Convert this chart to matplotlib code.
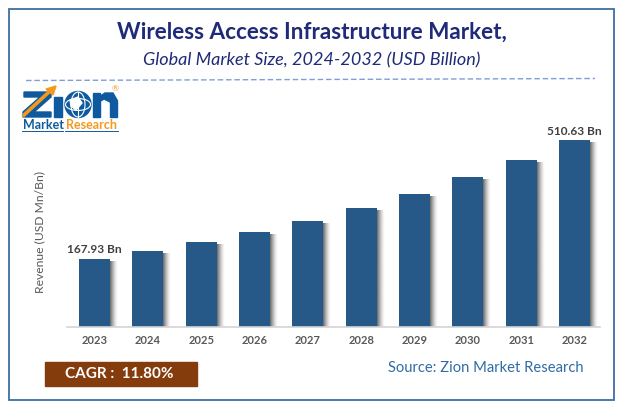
#!/usr/bin/env python3
"""Wireless access infrastructure market bar chart with Zion style frame and logo."""
import numpy as np
import matplotlib
matplotlib.use("Agg")
import matplotlib.pyplot as plt
from matplotlib.patches import Rectangle, Circle, Polygon, Ellipse

W, H = 622, 408

years = ["2023", "2024", "2025", "2026", "2027", "2028", "2029", "2030", "2031", "2032"]
values = [167.93, 191, 217, 246, 277, 315, 355, 404, 453, 510.63]
first_label = "167.93 Bn"
last_label = "510.63 Bn"

BLUE = "#265987"
NAVY = "#1f2a78"
GREY = "#595959"
LOGO_BLUE = "#0f5a9e"
LOGO_ORANGE = "#f39a1e"

plt.rcParams["font.family"] = ["Lato", "DejaVu Sans"]

fig = plt.figure(figsize=(W / 100, H / 100), dpi=100, facecolor="white")

# full-figure overlay in pixel coords for frame, titles, logo
bg = fig.add_axes([0, 0, 1, 1])
bg.set_xlim(0, W); bg.set_ylim(H, 0); bg.axis("off")
bg.add_patch(Rectangle((8.5, 8.5), 605.5, 391.5, fill=False, ec="#3c6fa3", lw=1.3))
bg.text(312, 32, "Wireless Access Infrastructure Market,", ha="center", va="center",
        fontsize=16.2, fontweight="bold", color=NAVY)
bg.text(312, 60, "Global Market Size, 2024-2032 (USD Billion)", ha="center", va="center",
        fontsize=13, style="italic", color=NAVY)
bg.plot([26, 595], [80.5, 78.5], color="#7f9fd8", lw=1, ls=(0, (4, 2)))

# logo
bg.add_patch(Polygon([[24, 92], [51, 92], [51, 97], [34, 112], [51, 112], [51, 117],
                      [23, 117], [23, 112], [40, 97], [24, 97]], color=LOGO_BLUE))
bg.add_patch(Rectangle((54, 97), 8, 20, color=LOGO_BLUE))
bg.add_patch(Circle((78, 104.5), 13, color=LOGO_BLUE))
bg.add_patch(Ellipse((78, 104.5), 14, 25, fill=False, ec="white", lw=0.8))
bg.add_patch(Ellipse((78, 104.5), 25, 12, fill=False, ec="white", lw=0.8))
bg.plot([78, 78], [92, 117], color="white", lw=0.8)
bg.add_patch(Polygon([[70, 100], [78, 97], [82, 103], [76, 110], [71, 106]], color="white"))
bg.add_patch(Rectangle((93, 93), 6.5, 24, color=LOGO_BLUE))
bg.add_patch(Rectangle((110, 100), 7, 17, color=LOGO_BLUE))
bg.add_patch(Polygon([[99, 97], [105, 93], [113, 93], [117, 100], [110, 102], [104, 99], [99, 102]],
                     color=LOGO_BLUE))
bg.plot([24, 50], [115, 91], color=LOGO_ORANGE, lw=2.6)
bg.add_patch(Polygon([[56, 86], [46, 89], [53, 95]], color=LOGO_ORANGE))
bg.text(115, 89, "®", ha="center", va="center", fontsize=6, color=LOGO_ORANGE)
bg.text(23, 125, "Market", ha="left", va="center", fontsize=9, fontweight="bold", color=LOGO_BLUE)
bg.text(66, 125, "Research", ha="left", va="center", fontsize=9, fontweight="bold", color=LOGO_ORANGE)
bg.plot([22, 63], [130.5, 130.5], color=LOGO_BLUE, lw=0.7)
bg.plot([65, 118], [130.5, 130.5], color=LOGO_BLUE, lw=0.7)

# chart area: x is bar index, y is value, the axis floor sits below zero
ax = fig.add_axes([67 / W, 1 - 327 / H, 533 / W, 200 / H])
ax.patch.set_alpha(0)
ymin = -28
ymax = ymin + 200 * 2.88
xlim = (-0.5155, -0.5155 + 533 / 53.33)
x = np.arange(len(years))
bar_w = 31 / 53.33

# soft shadow on the right of each bar
shadow_w = 8 / 53.33
fade = np.linspace(1, 0, 32)[None, :] ** 1.5
for xi, v in zip(x, values):
    ax.imshow(np.full((1, 32), 0.3), extent=(xi + bar_w / 2, xi + bar_w / 2 + shadow_w, ymin, v - 8),
              cmap="gray", vmin=0, vmax=1, alpha=fade * 0.85, aspect="auto", zorder=1,
              interpolation="bilinear")
ax.set_xlim(*xlim)
ax.set_ylim(ymin, ymax)
ax.bar(x, np.array(values) - ymin, bottom=ymin, width=bar_w, color=BLUE, zorder=2)

for s in ["top", "left", "right"]:
    ax.spines[s].set_visible(False)
ax.spines["bottom"].set_color("#d4d4d4")
ax.spines["bottom"].set_linewidth(1.2)
ax.set_yticks([])
ax.set_xticks(x)
ax.set_xticklabels(years, fontsize=8, fontweight="bold", color=GREY)
ax.tick_params(axis="x", length=0, pad=6)

ax.text(x[0], values[0] + 10, first_label, ha="center", va="bottom",
        fontsize=8.6, fontweight="bold", color="#404040")
ax.text(x[-1], values[-1] + 10, last_label, ha="center", va="bottom",
        fontsize=8.6, fontweight="bold", color="#404040")

bg.text(40, 232, "Revenue (USD Mn/Bn)", rotation=90, ha="center", va="center",
        fontsize=8.7, color=GREY)

# CAGR box and source
bg.add_patch(Rectangle((45, 362), 152, 24, color="#843c0c"))
bg.text(119.5, 374, "CAGR :  11.80%", ha="center", va="center", fontsize=11,
        fontweight="bold", color="white")
bg.text(486, 368, "Source: Zion Market Research", ha="center", va="center",
        fontsize=10.6, color="#2f6ba5")

fig.savefig("out.png", dpi=100)
